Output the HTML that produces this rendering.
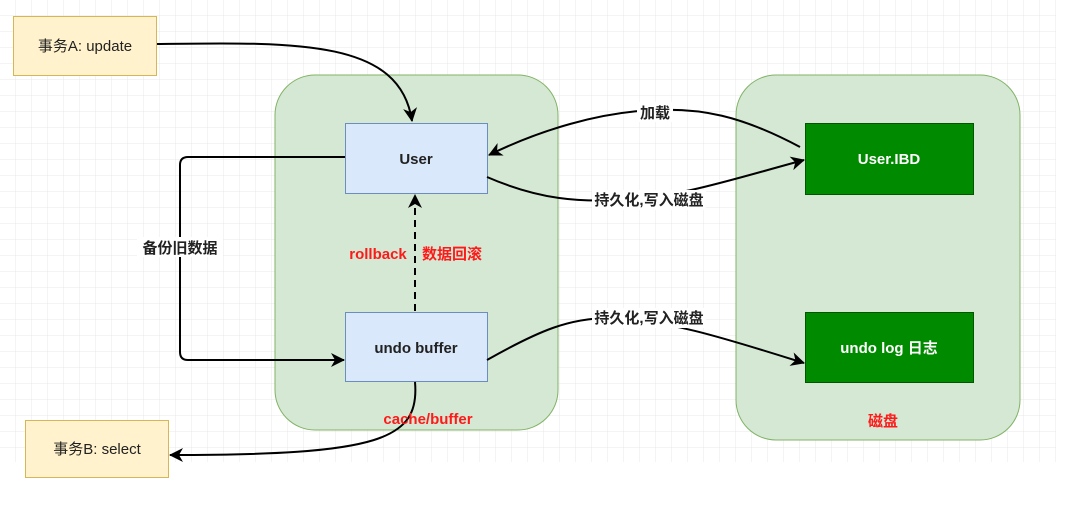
<!DOCTYPE html>
<html><head><meta charset="utf-8"><style>
body{margin:0;width:1080px;height:511px;overflow:hidden;background:#fff;}
svg{display:block}
text{font-family:"Liberation Sans","Noto Sans CJK SC",sans-serif;}
</style></head><body>
<svg width="1080" height="511" viewBox="0 0 1080 511">
<defs>
<pattern id="g" width="16" height="16" patternUnits="userSpaceOnUse">
<path d="M16 0V16M0 16H16" fill="none" stroke="#e8e8e8" stroke-width="1"/>
</pattern>
<marker id="a" markerWidth="16" markerHeight="16" refX="13" refY="7" orient="auto" markerUnits="userSpaceOnUse">
<path d="M0,0 L14,7 L0,14 L4,7 Z" fill="#000"/>
</marker>
</defs>
<rect x="0" y="0" width="1056" height="462" fill="url(#g)"/>
<rect x="275" y="75" width="283" height="355" rx="40" fill="#d5e8d4" stroke="#82b366"/>
<rect x="736" y="75" width="284" height="365" rx="40" fill="#d5e8d4" stroke="#82b366"/>
<rect x="13.5" y="16.5" width="143" height="59" fill="#fff2cc" stroke="#d6b656"/>
<text x="85" y="51" font-size="15" text-anchor="middle" fill="#222">事务A: update</text>
<rect x="25.5" y="420.5" width="143" height="57" fill="#fff2cc" stroke="#d6b656"/>
<text x="97" y="454" font-size="15" text-anchor="middle" fill="#222">事务B: select</text>
<rect x="345.5" y="123.5" width="142" height="70" fill="#dae8fc" stroke="#6c8ebf"/>
<text x="416" y="164" font-size="15" font-weight="bold" text-anchor="middle" fill="#222">User</text>
<rect x="345.5" y="312.5" width="142" height="69" fill="#dae8fc" stroke="#6c8ebf"/>
<text x="416" y="353" font-size="15" font-weight="bold" text-anchor="middle" fill="#222">undo buffer</text>
<rect x="805.5" y="123.5" width="168" height="71" fill="#008a00" stroke="#005700"/>
<text x="889" y="164" font-size="15" font-weight="bold" text-anchor="middle" fill="#fff">User.IBD</text>
<rect x="805.5" y="312.5" width="168" height="70" fill="#008a00" stroke="#005700"/>
<text x="889" y="353" font-size="15" font-weight="bold" text-anchor="middle" fill="#fff">undo log 日志</text>
<g fill="none" stroke="#000" stroke-width="2">
<path d="M157,44 C300,42 400,40 412,121" marker-end="url(#a)"/>
<path d="M345,157 H188 Q180,157 180,165 V352 Q180,360 188,360 H344" marker-end="url(#a)"/>
<path d="M415,311 V195" stroke-dasharray="7,5" marker-end="url(#a)"/>
<path d="M800,147 C740,115 700,108 655,110 C600,112 540,130 489,155" marker-end="url(#a)"/>
<path d="M487,177 C540,200 580,202 620,200 C680,197 730,180 804,160" marker-end="url(#a)"/>
<path d="M487,360 C540,330 570,318 610,318 C670,320 730,340 804,363" marker-end="url(#a)"/>
<path d="M415,382 C420,440 380,455 170,455" marker-end="url(#a)"/>
</g>
<g fill="#fff">
<rect x="637" y="102" width="36" height="20"/>
<rect x="592" y="190" width="114" height="20"/>
<rect x="592" y="308" width="114" height="20"/>
<rect x="137" y="237" width="86" height="20"/>
</g>
<g font-size="15" font-weight="bold" fill="#222" text-anchor="middle">
<text x="655" y="118">加载</text>
<text x="649" y="205">持久化,写入磁盘</text>
<text x="649" y="323">持久化,写入磁盘</text>
<text x="180" y="253">备份旧数据</text>
</g>
<g font-size="15" font-weight="bold" fill="#ff1a1a" text-anchor="middle">
<text x="378" y="259">rollback</text>
<text x="452" y="259">数据回滚</text>
<text x="428" y="424">cache/buffer</text>
<text x="883" y="426">磁盘</text>
</g>
</svg>
</body></html>
